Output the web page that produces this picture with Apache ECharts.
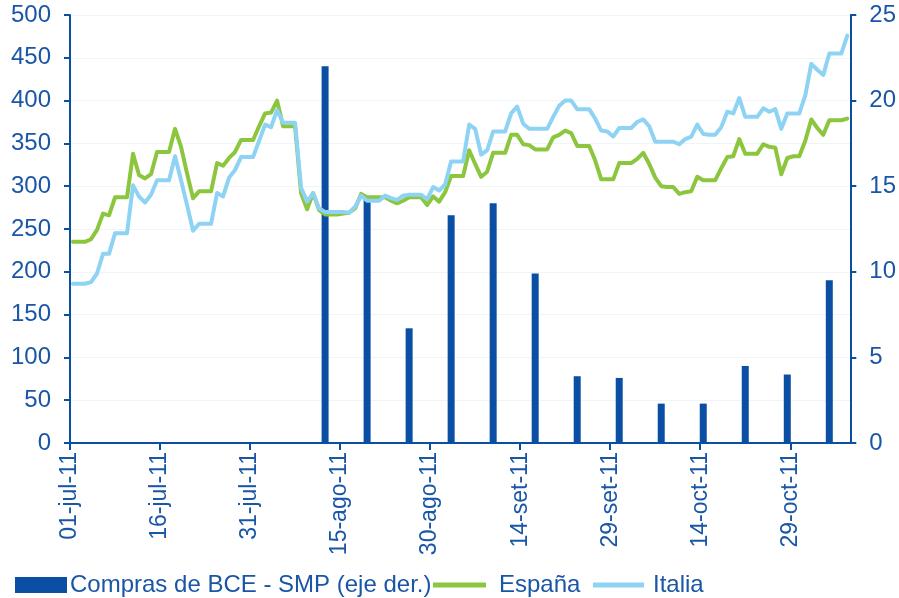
<!DOCTYPE html>
<html>
<head>
<meta charset="utf-8">
<script src="https://cdn.jsdelivr.net/npm/echarts@6/dist/echarts.min.js"></script>
<style>
	html, body { margin: 0; padding: 0; background: #fff; }
	#echart { width: 899px; height: 598px; }
</style>
</head>
<body>
<div id="echart"></div>
<script>
	'use strict'

	/*-----data-----*/
	var meses = ['ene', 'feb', 'mar', 'abr', 'may', 'jun', 'jul', 'ago', 'set', 'oct', 'nov', 'dic'];
	var primerDia = Date.UTC(2011, 6, 1);
	var numDias = 131; // 01-jul-11 .. 08-nov-11 (axis ends)

	var espana = [
		235, 235, 235, 238, 249, 268, 266, 287, 287, 287,
		338, 313, 309, 314, 340, 340, 340, 367, 346, 315,
		286, 294, 294, 294, 327, 324, 333, 340, 354, 354,
		354, 370, 385, 386, 400, 370, 370, 370, 292, 273,
		292, 272, 267, 267, 267, 268, 269, 274, 291, 287,
		287, 287, 287, 283, 280, 283, 287, 287, 287, 278,
		288, 282, 293, 312, 312, 312, 342, 326, 311, 317,
		339, 339, 339, 360, 360, 349, 348, 343, 343, 343,
		357, 360, 365, 362, 347, 347, 347, 330, 308, 308,
		308, 327, 327, 327, 332, 339, 326, 310, 300, 299,
		299, 291, 293, 294, 311, 307, 307, 307, 321, 334,
		335, 355, 338, 338, 338, 349, 346, 345, 314, 333,
		335, 335, 353, 378, 368, 360, 377, 377, 377, 379
	];
	var italia = [
		186, 186, 186, 188, 198, 221, 221, 245, 245, 245,
		301, 288, 281, 290, 307, 307, 307, 335, 307, 278,
		248, 256, 256, 256, 292, 288, 310, 319, 334, 334,
		334, 353, 372, 369, 389, 374, 374, 374, 298, 282,
		292, 274, 270, 270, 270, 270, 269, 276, 289, 283,
		283, 283, 289, 286, 284, 289, 290, 290, 290, 285,
		299, 295, 302, 329, 329, 329, 372, 367, 337, 342,
		364, 364, 364, 385, 393, 373, 367, 367, 367, 367,
		381, 394, 400, 400, 390, 390, 390, 379, 365, 364,
		358, 368, 368, 368, 375, 378, 370, 352, 352, 352,
		352, 349, 355, 358, 372, 361, 360, 360, 369, 387,
		385, 403, 381, 381, 381, 391, 387, 390, 367, 385,
		385, 385, 406, 443, 436, 430, 455, 455, 455, 476
	];
	var smpFechas = ['12-ago-11', '19-ago-11', '26-ago-11', '02-set-11', '09-set-11', '16-set-11', '23-set-11',
		'30-set-11', '07-oct-11', '14-oct-11', '21-oct-11', '28-oct-11', '04-nov-11'];
	var smpValores = [22.0, 14.3, 6.7, 13.3, 14.0, 9.9, 3.9, 3.8, 2.3, 2.3, 4.5, 4.0, 9.5];

	var ejeIzq = { min: 0, max: 500, interval: 50 };
	var ejeDer = { min: 0, max: 25, interval: 5 };

	var nombreBarras = 'Compras de BCE - SMP (eje der.)';

	/*-----dates-----*/
	function etiqueta(t) {
		var d = new Date(t);
		var dd = d.getUTCDate();
		return (dd < 10 ? '0' : '') + dd + '-' + meses[d.getUTCMonth()] + '-' + String(d.getUTCFullYear()).slice(2);
	}
	var fechas = [];
	for (var k = 0; k < numDias; k++) {
		fechas.push(etiqueta(primerDia + k * 86400000));
	}
	// daily points sit in the middle of each day slot
	var fechasDatos = fechas.slice(0, espana.length);

	var barras = smpFechas.map(function (f, i) {
		return [f, smpValores[i]];
	});

	/*-----chart-----*/
	var azul = '#0b4fa2';
	var texto = '#1a56a6';
	var verde = '#8cc63f';
	var celeste = '#8fd3f4';
	var fuente = 'Liberation Sans, Arial, sans-serif';

	var chart = echarts.init(document.getElementById('echart'));
	var option = {
		animation: false,
		backgroundColor: '#ffffff',
		textStyle: { fontFamily: fuente },
		grid: {
			left: 70,
			right: 44,
			top: 15,
			bottom: 155
		},
		xAxis: [{
			type: 'category',
			data: fechas,
			boundaryGap: false,
			axisLine: { lineStyle: { color: azul, width: 2 } },
			axisTick: { interval: 14, length: 7, lineStyle: { color: azul, width: 2 } },
			axisLabel: {
				interval: 14,
				rotate: 90,
				margin: 9,
				fontSize: 23,
				color: texto,
				fontFamily: fuente
			},
			splitLine: { show: false }
		}, {
			type: 'category',
			data: fechasDatos,
			boundaryGap: true,
			show: false
		}],
		yAxis: [{
			type: 'value',
			min: ejeIzq.min,
			max: ejeIzq.max,
			interval: ejeIzq.interval,
			axisLine: { show: true, lineStyle: { color: azul, width: 2 } },
			axisTick: { show: true, length: 6, lineStyle: { color: azul, width: 2 } },
			axisLabel: { fontSize: 24, color: texto, margin: 19, fontFamily: fuente },
			splitLine: { show: true, lineStyle: { color: '#edf5fb', width: 1 } }
		}, {
			type: 'value',
			min: ejeDer.min,
			max: ejeDer.max,
			interval: ejeDer.interval,
			axisLine: { show: true, lineStyle: { color: azul, width: 2 } },
			axisTick: { show: true, length: 6, lineStyle: { color: azul, width: 2 } },
			axisLabel: { fontSize: 24, color: texto, margin: 19, fontFamily: fuente },
			splitLine: { show: false }
		}],
		legend: [{
			data: [{ name: nombreBarras, icon: 'rect' }],
			left: 15,
			top: 573,
			padding: 0,
			itemWidth: 52,
			itemHeight: 16,
			textStyle: { fontSize: 24, color: texto, fontFamily: fuente, padding: [0, 0, 0, -2] }
		}, {
			data: [{ name: 'España', icon: 'rect' }],
			left: 433,
			top: 573,
			padding: 0,
			itemWidth: 53,
			itemHeight: 5,
			textStyle: { fontSize: 24, color: texto, fontFamily: fuente, padding: [0, 0, 0, 8] }
		}, {
			data: [{ name: 'Italia', icon: 'rect' }],
			left: 593,
			top: 573,
			padding: 0,
			itemWidth: 51,
			itemHeight: 5,
			textStyle: { fontSize: 24, color: texto, fontFamily: fuente, padding: [0, 0, 0, 4] }
		}],
		series: [{
			name: nombreBarras,
			type: 'bar',
			xAxisIndex: 1,
			yAxisIndex: 1,
			barWidth: 7,
			data: barras,
			itemStyle: { color: '#0a4fa3' }
		}, {
			name: 'España',
			type: 'line',
			xAxisIndex: 1,
			yAxisIndex: 0,
			symbol: 'none',
			data: espana,
			lineStyle: { color: verde, width: 4, join: 'round', cap: 'round' },
			itemStyle: { color: verde }
		}, {
			name: 'Italia',
			type: 'line',
			xAxisIndex: 1,
			yAxisIndex: 0,
			symbol: 'none',
			data: italia,
			lineStyle: { color: celeste, width: 4, join: 'round', cap: 'round' },
			itemStyle: { color: celeste }
		}]
	};
	chart.setOption(option);
</script>
</body>
</html>
